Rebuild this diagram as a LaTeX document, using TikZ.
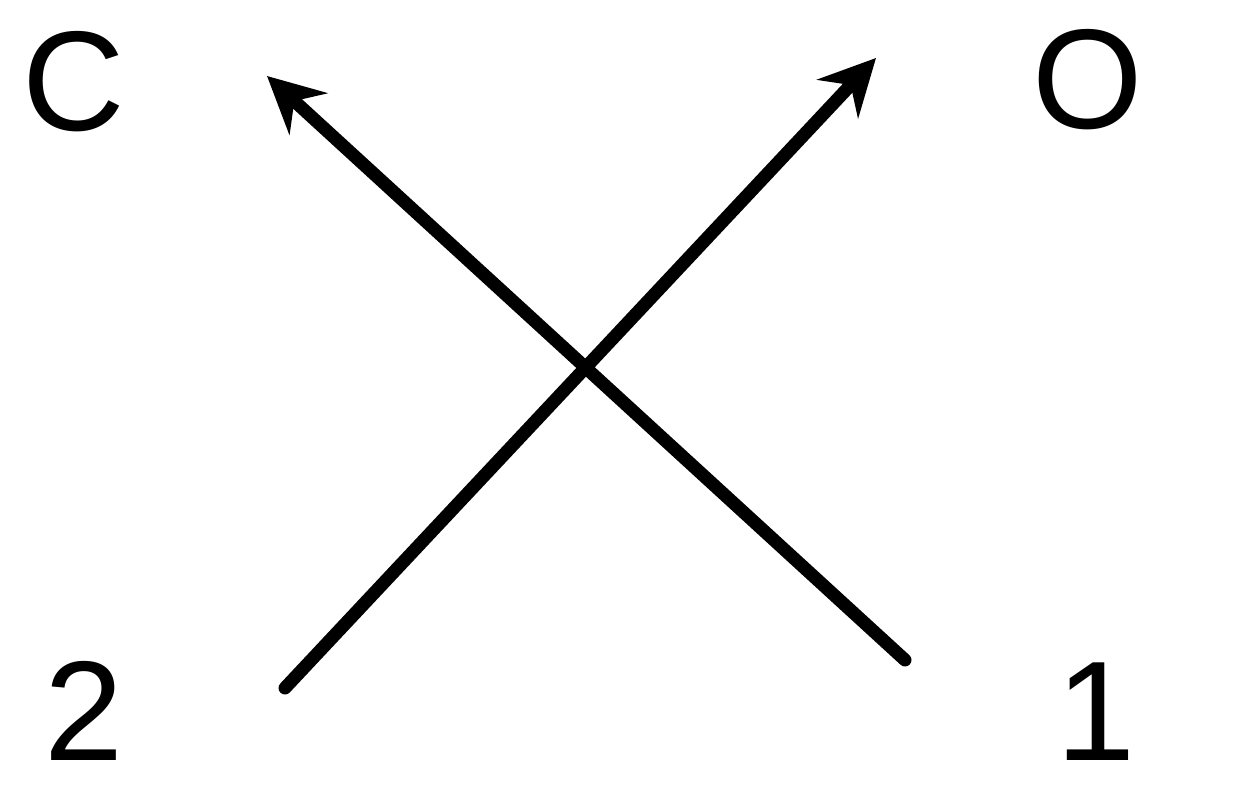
\documentclass[tikz,border=0pt]{standalone}
\usepackage{fontspec}
\setmainfont{Liberation Sans}
\usetikzlibrary{arrows.meta}
\begin{document}
\begin{tikzpicture}[x=1pt,y=-1pt,
  lbl/.style={inner sep=0pt,anchor=base,font=\fontsize{142}{170}\selectfont},
  conn/.style={line width=13pt,line cap=round,-{Stealth[length=56pt,width=56pt,inset=19pt]}}]
\useasboundingbox (0,0) rectangle (1234,810);
\node[lbl] (nC) at (74,131) {C};
\node[lbl] (nO) at (1088,129) {O};
\node[lbl] (n2) at (84,760) {2};
\node[lbl] (n1) at (1096,760) {1};
\coordinate (s1) at (905,660);
\coordinate (t1) at (267,76);
\coordinate (s2) at (285,688);
\coordinate (t2) at (876,58);
\draw[conn] (s1) -- (t1);
\draw[conn] (s2) -- (t2);
\end{tikzpicture}
\end{document}
